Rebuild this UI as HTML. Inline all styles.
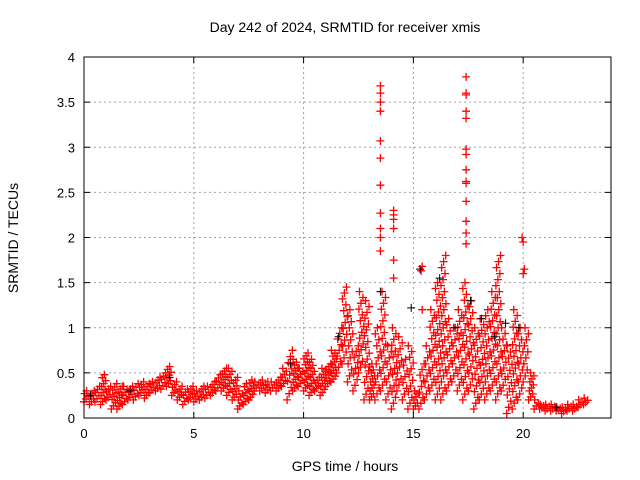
<!DOCTYPE html>
<html><head><meta charset="utf-8"><style>
body{margin:0;background:#fff}
svg{display:block;font-family:"Liberation Sans",sans-serif}
</style></head><body>
<svg id="c" width="640" height="480">
<rect width="640" height="480" fill="#fff"/>
<text x="345" y="32" font-size="14" text-anchor="middle">Day 242 of 2024, SRMTID for receiver xmis</text>
<text x="345" y="471" font-size="14" text-anchor="middle">GPS time / hours</text>
<text transform="translate(18,238) rotate(-90)" font-size="14" text-anchor="middle">SRMTID / TECUs</text>
<g id="grid"></g><g id="marks"></g><g id="axes"></g>
</svg>
<script>
const xTicks=[0,5,10,15,20];
const yTicks=[0,0.5,1,1.5,2,2.5,3,3.5,4];
const yTickLabels=["0","0.5","1","1.5","2","2.5","3","3.5","4"];
const binStep=0.25;
const lowVals=[0.18,0.15,0.18,0.15,0.2,0.1,0.1,0.15,0.2,0.2,0.25,0.22,0.28,0.3,0.32,0.35,
0.25,0.2,0.15,0.2,0.18,0.2,0.22,0.25,0.3,0.3,0.25,0.2,0.1,0.15,0.2,0.3,
0.3,0.28,0.3,0.3,0.35,0.2,0.3,0.35,0.3,0.25,0.3,0.25,0.35,0.4,0.5,0.6,
0.4,0.3,0.5,0.2,0.2,0.2,0.3,0.2,0.1,0.3,0.2,0.1,0.1,0.1,0.2,0.3,
0.2,0.2,0.3,0.4,0.3,0.2,0.3,0.1,0.2,0.2,0.3,0.2,0.3,0.05,0.1,0.2,
0.4,0.2,0.1,0.1,0.08,0.08,0.08,0.05,0.08,0.08,0.12,0.15];
const highVals=[0.3,0.3,0.35,0.48,0.35,0.38,0.35,0.35,0.35,0.38,0.4,0.38,0.4,0.45,0.5,0.57,
0.4,0.35,0.32,0.35,0.3,0.35,0.35,0.4,0.48,0.55,0.55,0.45,0.3,0.38,0.42,0.4,
0.42,0.4,0.4,0.45,0.55,0.75,0.65,0.55,0.72,0.65,0.45,0.55,0.6,0.75,1.0,1.45,
1.2,0.8,1.4,1.3,0.6,1.0,1.4,0.8,1.0,0.9,0.65,0.8,0.3,0.6,0.8,1.2,
1.5,1.8,1.1,1.0,1.2,1.5,1.3,1.0,1.1,1.2,1.4,1.8,1.0,0.8,1.2,1.0,
1.0,0.5,0.2,0.15,0.15,0.15,0.12,0.12,0.15,0.15,0.2,0.22];
const spikeTimes=[13.5,13.5,13.5,13.5,13.5,13.5,13.5,13.5,13.5,13.5,13.5,14.1,14.1,14.1,14.1,14.1,14.1,17.4,17.4,17.4,17.4,17.4,17.4,17.4,17.4,17.4,17.4,17.4,17.4,17.4,17.4,19.95,20.0,20.05,20.0,15.4,15.35,15.4];
const spikeVals=[3.68,3.6,3.5,3.4,3.07,2.88,2.58,2.27,2.1,2.0,1.85,2.3,2.25,2.2,2.1,1.75,1.55,3.78,3.6,3.58,3.4,3.32,2.98,2.92,2.75,2.62,2.6,2.4,2.18,2.05,1.93,2.0,1.95,1.65,1.6,1.68,1.63,1.2];
const blackTimes=[0.3,2.1,3.9,9.4,11.6,13.5,14.9,15.3,16.2,16.9,17.6,18.1,18.7,19.2,19.8,21.5];
const blackVals=[0.25,0.3,0.45,0.6,0.9,1.4,1.22,1.65,1.55,1.0,1.3,1.1,0.9,1.05,1.0,0.12];
const L=84,R=611,T=57,B=418,XMAX=24,YMAX=4;
const X=v=>L+v/XMAX*(R-L), Y=v=>B-v/YMAX*(B-T);
const NS="http://www.w3.org/2000/svg";
function mk(tag,attrs,parent){const e=document.createElementNS(NS,tag);for(const k in attrs)e.setAttribute(k,attrs[k]);parent.appendChild(e);return e;}
const grid=document.getElementById('grid'),marks=document.getElementById('marks'),axes=document.getElementById('axes');
xTicks.forEach(t=>{
  if(t>0){const g=mk('line',{x1:X(t),x2:X(t),y1:T,y2:B,stroke:'#a0a0a0','stroke-dasharray':'2,3'},grid);
  
  }
  const tl=mk('text',{x:X(t),y:B+20,'font-size':13,'text-anchor':'middle'},axes);tl.textContent=t;
  
  
  mk('line',{x1:X(t),x2:X(t),y1:B,y2:B-6,stroke:'#000'},axes);
  mk('line',{x1:X(t),x2:X(t),y1:T,y2:T+6,stroke:'#000'},axes);
});
yTicks.forEach((t,i)=>{
  if(t>0&&t<YMAX){const g=mk('line',{x1:L,x2:R,y1:Y(t),y2:Y(t),stroke:'#a0a0a0','stroke-dasharray':'2,3'},grid);
  
  }
  const tl=mk('text',{x:L-9,y:Y(t)+5,'font-size':13,'text-anchor':'end'},axes);tl.textContent=yTickLabels[i];
  
  
  mk('line',{x1:L,x2:L+6,y1:Y(t),y2:Y(t),stroke:'#000'},axes);
  mk('line',{x1:R,x2:R-6,y1:Y(t),y2:Y(t),stroke:'#000'},axes);
});
const frame=mk('rect',{x:L,y:T,width:R-L,height:B-T,fill:'none',stroke:'#000'},axes);


let d='',db='';
function cross(x,y){return `M${(x-4).toFixed(1)} ${y.toFixed(1)}h8M${x.toFixed(1)} ${(y-4).toFixed(1)}v8`;}
const n=Math.min(lowVals.length,highVals.length);
for(let i=0;i<n;i++){
  const t0=i*binStep;
  const lo=Y(lowVals[i]),hi=Y(highVals[i]);
  const span=lo-hi;
  const gap=span>40?6:3;
  const steps=Math.max(3,Math.round(span/gap));
  for(let k=0;k<=steps;k++){
    const y=lo+(hi-lo)*k/steps;
    const x=X(t0+binStep*((k*0.37)%1));
    d+=cross(x,y);
  }
}
spikeTimes.forEach((t,i)=>{d+=cross(X(t),Y(spikeVals[i]));});
blackTimes.forEach((t,i)=>{db+=cross(X(t),Y(blackVals[i]));});
const rp=mk('path',{d:d,stroke:'#ff0000','stroke-width':1.3,fill:'none'},marks);


const bp=mk('path',{d:db,stroke:'#000','stroke-width':1,fill:'none'},marks);


</script>
</body></html>
